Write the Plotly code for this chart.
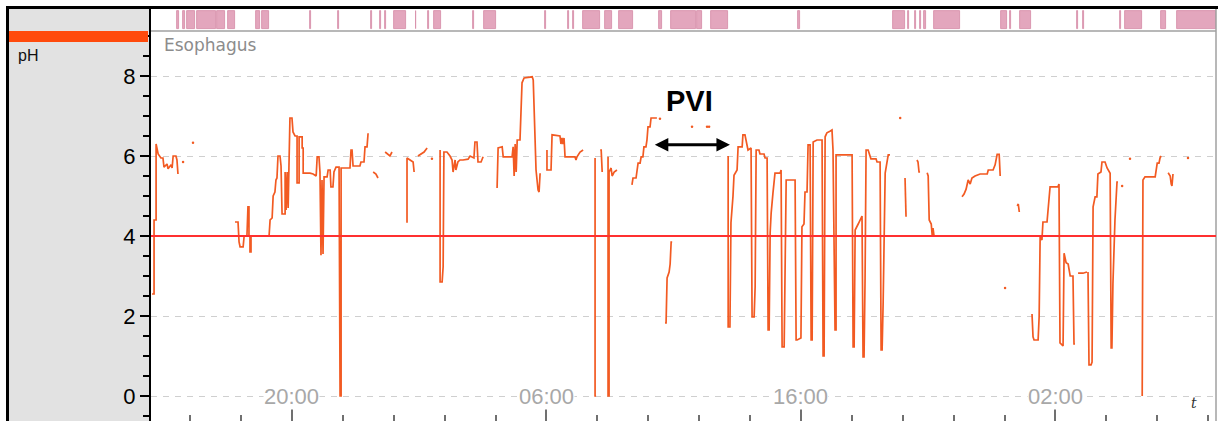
import plotly.graph_objects as go

# ---------------- data ----------------
# x values are clock hours counted continuously (20 = 20:00 day 1, 30 = 06:00 day 2, ...)
tick_hours = [20, 30, 40, 50]
tick_labels = ["20:00", "06:00", "16:00", "02:00"]
ph_threshold = 4.0
y_ticks = [0, 2, 4, 6, 8]

# pH trace (time in hours, pH); None = gap in recording
ph_points = [
    (14.50, 2.55), (14.58, 2.55), (14.58, 4.4), (14.66, 4.4), (14.66, 6.3), (14.74, 6.05), (14.85, 5.95),
    (14.93, 5.95), (14.97, 5.72), (15.09, 5.8), (15.13, 5.68), (15.25, 5.78), (15.29, 5.7), (15.33, 6.0),
    (15.44, 6.0), (15.48, 5.9), (15.52, 5.55), None,
    (17.76, 4.35), (17.88, 4.35), (17.92, 3.85), (17.96, 3.73), (18.08, 3.73), (18.12, 4.0), (18.23, 4.0),
    (18.27, 4.73), (18.31, 4.73), (18.31, 4.0), (18.35, 4.0), (18.35, 3.6), (18.39, 3.6), (18.39, 4.0),
    (19.10, 4.0), (19.14, 4.4), (19.22, 4.45), (19.26, 5.0), (19.33, 5.1), (19.37, 5.4), (19.41, 5.45),
    (19.45, 6.0), (19.53, 6.0), (19.57, 5.75), (19.61, 4.55), (19.73, 4.55), (19.73, 5.6), (19.77, 4.65),
    (19.81, 5.6), (19.85, 4.7), (19.88, 5.7), (19.92, 6.95), (20.00, 6.95), (20.04, 6.6), (20.12, 6.5),
    (20.20, 6.5), (20.20, 5.33), (20.28, 5.33), (20.28, 6.48), (20.40, 6.48), (20.40, 6.2), (20.44, 6.2),
    (20.44, 5.57), (20.71, 5.57), (20.83, 5.55), (20.95, 5.5), (20.99, 5.98), (21.06, 5.98), (21.10, 5.6),
    (21.14, 3.52), (21.18, 5.4), (21.22, 3.55), (21.26, 5.48), (21.38, 5.48), (21.42, 5.65), (21.50, 5.65),
    (21.53, 5.23), (21.61, 5.23), (21.65, 5.6), (21.73, 5.72), (21.85, 5.72), (21.89, 0.0), (21.93, 0.0),
    (21.93, 5.7), (22.28, 5.7), (22.32, 6.15), (22.36, 6.15), (22.40, 5.75), (22.67, 5.75), (22.71, 5.85),
    (22.83, 5.85), (22.87, 6.23), (22.95, 6.23), (22.99, 6.57), None,
    (23.19, 5.6), (23.30, 5.55), (23.38, 5.45), None,
    (23.66, 6.1), (23.77, 6.05), (23.85, 6.0), (23.93, 6.1), None,
    (24.52, 4.33), (24.52, 5.95), (24.64, 5.9), (24.76, 5.85), (24.80, 5.6), None,
    (24.95, 6.0), (25.07, 6.05), (25.19, 6.1), (25.31, 6.2), None,
    (25.82, 6.15), (25.82, 2.85), (25.90, 2.85), (25.94, 3.23), (25.97, 6.1), (26.09, 6.1), (26.21, 6.0),
    (26.29, 5.9), (26.33, 5.6), (26.41, 5.9), (26.44, 5.65), (26.52, 5.85), (26.60, 5.9), (26.72, 5.9),
    (26.92, 5.92), (27.00, 6.0), (27.15, 5.95), (27.19, 6.35), (27.27, 6.35), (27.31, 5.85), (27.43, 5.85),
    (27.51, 5.98), None,
    (28.06, 5.2), (28.10, 6.2), (28.26, 6.23), (28.30, 5.98), (28.65, 5.98), (28.69, 6.23), (28.73, 5.5),
    (28.77, 6.3), (28.81, 5.6), (28.85, 6.4), (28.96, 6.4), (29.00, 7.4), (29.04, 7.83), (29.12, 7.95),
    (29.44, 7.98), (29.48, 7.9), (29.55, 6.65), (29.59, 5.65), (29.67, 5.15), (29.71, 5.1), (29.75, 5.57), None,
    (30.02, 6.15), (30.02, 5.65), (30.18, 5.65), (30.22, 6.53), (30.53, 6.5), (30.57, 6.3), (30.61, 6.45),
    (30.65, 6.3), (30.69, 6.45), (30.73, 5.98), (31.12, 5.98), (31.16, 5.9), (31.20, 5.98), (31.32, 6.1),
    (31.44, 6.15), None,
    (31.91, 5.95), (31.91, 0.0), (31.95, 0.0), None,
    (32.11, 6.15), (32.15, 6.15), (32.19, 5.6), None,
    (32.42, 5.98), (32.42, 0.0), (32.46, 0.0), (32.46, 5.6), (32.54, 5.7), (32.58, 5.5), (32.66, 5.6),
    (32.77, 5.65), None,
    (33.36, 5.28), (33.40, 5.45), (33.52, 5.45), (33.56, 5.6), (33.60, 5.82), (33.68, 5.82), (33.72, 5.98),
    (33.79, 5.98), (33.83, 6.23), (33.91, 6.23), (33.95, 6.4), (33.99, 6.73), (34.07, 6.73), (34.11, 6.95),
    (34.34, 6.95), None,
    (34.66, 1.83), (34.70, 1.83), (34.74, 2.95), (34.82, 3.1), (34.86, 3.3), (34.90, 3.85), (34.94, 3.85), None,
    (37.14, 6.0), (37.14, 1.73), (37.21, 1.73), (37.25, 4.33), (37.33, 5.0), (37.37, 5.52), (37.49, 5.65),
    (37.53, 6.23), (37.69, 6.23), (37.72, 6.53), (37.80, 6.53), (37.84, 6.4), (37.92, 6.15), (38.04, 6.2),
    (38.08, 1.98), (38.16, 1.98), (38.20, 2.73), (38.24, 6.15), (38.35, 6.15), (38.39, 6.05), (38.55, 6.05),
    (38.59, 5.95), (38.67, 5.95), (38.71, 1.65), (38.75, 1.65), (38.79, 4.08), (38.83, 4.58), (38.90, 5.07),
    (38.98, 5.57), (39.18, 5.57), (39.22, 5.65), (39.26, 1.23), (39.34, 1.23), (39.42, 5.4), (39.77, 5.4),
    (39.81, 1.4), (39.85, 1.4), (40.00, 1.45), (40.04, 4.23), (40.12, 4.3), (40.16, 5.1), (40.24, 5.1),
    (40.28, 6.28), (40.36, 6.28), (40.40, 1.4), (40.44, 1.4), (40.48, 6.35), (40.63, 6.4), (40.83, 6.4),
    (40.87, 1.0), (40.91, 1.0), (40.95, 6.48), (41.02, 6.58), (41.14, 6.62), (41.22, 6.65), (41.26, 6.15),
    (41.34, 1.65), (41.38, 1.65), (41.38, 6.03), (42.01, 6.03), (42.05, 1.23), (42.09, 1.23), (42.13, 4.15),
    (42.25, 4.3), (42.36, 4.45), (42.40, 4.5), (42.44, 0.98), (42.48, 0.98), (42.52, 2.95), (42.56, 6.15),
    (42.64, 6.15), (42.68, 6.05), (42.75, 5.93), (42.95, 5.93), (42.99, 5.85), (43.11, 5.85), (43.15, 1.15),
    (43.19, 1.15), (43.23, 2.33), (43.31, 5.57), (43.39, 5.9), (43.43, 6.03), (43.50, 6.03), None,
    (44.09, 5.45), (44.13, 4.48), None,
    (44.56, 5.9), (44.60, 5.85), (44.64, 5.6), (44.68, 5.6), None,
    (44.96, 5.58), (45.00, 5.5), (45.04, 4.4), (45.12, 4.3), (45.16, 4.0), (45.19, 4.2), (45.23, 4.0), None,
    (46.33, 4.98), (46.41, 5.05), (46.49, 5.17), (46.57, 5.4), (46.65, 5.3), (46.72, 5.45), (46.84, 5.5),
    (47.04, 5.55), (47.32, 5.55), (47.36, 5.65), (47.55, 5.65), (47.63, 5.78), (47.71, 6.04), (47.79, 6.04),
    (47.83, 5.5), None,
    (48.50, 4.75), (48.54, 4.8), (48.58, 4.6), None,
    (49.08, 2.05), (49.12, 1.48), (49.16, 1.4), (49.32, 1.4), (49.36, 1.98), (49.40, 3.98), (49.47, 3.9),
    (49.51, 4.35), (49.67, 4.35), (49.71, 4.7), (49.79, 5.23), (50.10, 5.23), (50.14, 5.3), (50.18, 1.33),
    (50.30, 1.25), (50.34, 3.57), (50.42, 3.33), (50.50, 3.3), (50.58, 3.0), (50.69, 3.0), (50.73, 1.3),
    (50.77, 1.3), None,
    (50.89, 3.07), (51.08, 3.07), (51.24, 3.1), None,
    (51.28, 3.1), (51.32, 0.78), (51.40, 0.78), (51.44, 0.85), (51.48, 4.73), (51.56, 4.98), (51.63, 4.98),
    (51.67, 5.55), (51.79, 5.6), (51.83, 5.85), (51.95, 5.85), (52.03, 5.7), (52.15, 5.57), (52.19, 1.2),
    (52.22, 1.2), (52.26, 2.82), (52.34, 4.4), (52.42, 5.35), (52.46, 5.35), None,
    (53.41, 0.0), (53.44, 5.4), (53.52, 5.48), (53.92, 5.48), (54.00, 5.82), (54.07, 5.82), (54.11, 5.95),
    (54.15, 6.0), None,
    (54.43, 5.58), (54.51, 5.5), (54.55, 5.3), (54.58, 5.25), (54.62, 5.55),
]

# isolated single readings
dot_time = [15.72, 16.11, 25.50, 34.46, 35.72, 36.31, 36.39, 43.90, 48.02, 52.62, 52.93, 55.21]
dot_value = [5.85, 6.33, 5.93, 6.93, 6.73, 6.73, 6.73, 6.95, 2.70, 5.25, 5.93, 5.95]

# event marks in the top strip (start / end hour)
event_start = [15.48, 15.72, 15.88, 16.26, 17.07, 17.48, 18.57, 18.84, 20.69, 21.81, 23.11, 23.44, 23.64,
               24.01, 24.86, 25.35, 25.57, 27.12, 27.55, 29.96, 30.85, 31.06, 31.42, 32.30, 32.84, 34.41,
               34.89, 35.92, 36.47, 39.89, 43.62, 44.21, 44.49, 44.68, 44.84, 45.23, 47.87, 48.20, 48.61,
               50.83, 51.07, 52.52, 52.74, 54.16, 54.76]
event_end = [15.56, 15.78, 16.19, 17.00, 17.35, 17.75, 18.74, 19.11, 20.73, 21.85, 23.15, 23.48, 23.68,
             24.48, 24.89, 25.39, 25.85, 27.15, 28.02, 30.00, 30.89, 31.10, 32.10, 32.58, 33.39, 34.54,
             35.86, 36.12, 37.14, 39.95, 44.09, 44.25, 44.53, 44.72, 44.90, 46.25, 48.08, 48.24, 49.03,
             50.87, 51.11, 52.56, 53.41, 54.36, 56.31]

# ---------------- layout geometry (pixels) ----------------
FIG_W, FIG_H = 1218, 421
PL, PR, PT, PB = 151, 1216, 9, 421          # plot area
STRIP_BOTTOM = 31


def fx(p):
    return (p - PL) / (PR - PL)


def fy(p):
    return (PB - p) / (PB - PT)


ph_time = [p[0] if p is not None else None for p in ph_points]
ph_value = [p[1] if p is not None else None for p in ph_points]

fig = go.Figure()

# event strip
fig.add_trace(go.Bar(
    x=[(s + e) / 2 for s, e in zip(event_start, event_end)],
    width=[e - s for s, e in zip(event_start, event_end)],
    y=[0.82] * len(event_start), base=[0.09] * len(event_start),
    marker=dict(color="#e3a6bd", line=dict(color="#d48aa6", width=0.8)),
    xaxis="x", yaxis="y2", hoverinfo="skip", showlegend=False,
))

# pH trace
fig.add_trace(go.Scatter(
    x=ph_time, y=ph_value, mode="lines", connectgaps=False,
    line=dict(color="#f25a22", width=1.7), showlegend=False, hoverinfo="skip",
))
fig.add_trace(go.Scatter(
    x=dot_time, y=dot_value, mode="markers",
    marker=dict(color="#f25a22", size=2.5), showlegend=False, hoverinfo="skip",
))

main_top = fy(STRIP_BOTTOM)

shapes = [
    # grey side panel
    dict(type="rect", xref="paper", yref="paper", x0=fx(8), x1=fx(150), y0=fy(FIG_H), y1=fy(9),
         fillcolor="#e2e2e2", line=dict(width=0), layer="below"),
    # orange channel bar
    dict(type="rect", xref="paper", yref="paper", x0=fx(8), x1=fx(148), y0=fy(42), y1=fy(31),
         fillcolor="#ff4a0c", line=dict(width=0), layer="above"),
    # top black border
    dict(type="rect", xref="paper", yref="paper", x0=fx(6), x1=fx(FIG_W), y0=fy(9), y1=fy(6),
         fillcolor="#000000", line=dict(width=0), layer="above"),
    # left black border
    dict(type="rect", xref="paper", yref="paper", x0=fx(6), x1=fx(9), y0=fy(FIG_H), y1=fy(6),
         fillcolor="#000000", line=dict(width=0), layer="above"),
    # strip separator
    dict(type="line", xref="paper", yref="paper", x0=0, x1=1, y0=main_top, y1=main_top,
         line=dict(color="#a0a0a0", width=1.5), layer="above"),
    # right border
    dict(type="line", xref="paper", yref="paper", x0=1, x1=1, y0=0, y1=1,
         line=dict(color="#a0a0a0", width=1.5), layer="above"),
    # pH 4 threshold
    dict(type="line", xref="paper", yref="y", x0=0, x1=1, y0=ph_threshold, y1=ph_threshold,
         line=dict(color="#ff3030", width=2), layer="above"),
]

annotations = [
    dict(text="Esophagus", xref="paper", yref="paper", x=fx(162), y=fy(45), xanchor="left",
         yanchor="middle", showarrow=False, font=dict(family="DejaVu Sans", size=17, color="#8c8c8c")),
    dict(text="pH", xref="paper", yref="paper", x=fx(16), y=fy(56), xanchor="left", yanchor="middle",
         showarrow=False, font=dict(family="Liberation Sans", size=16, color="#111111")),
    dict(text="<i>t</i>", xref="paper", yref="paper", x=fx(1194), y=fy(403), xanchor="center",
         yanchor="middle", showarrow=False, font=dict(family="DejaVu Serif", size=14, color="#333333")),
    dict(text="<b>PVI</b>", xref="x", yref="y", x=35.64, y=7.38, showarrow=False,
         font=dict(family="Liberation Sans", size=29, color="#000000")),
    dict(text="", xref="x", yref="y", x=37.21, y=6.28, ax=34.20, ay=6.28, axref="x", ayref="y",
         showarrow=True, arrowhead=2, startarrowhead=2, arrowside="end+start", arrowwidth=3,
         arrowsize=0.9, startarrowsize=0.9, arrowcolor="#000000", standoff=0, startstandoff=0),
]
for t, lab in zip(tick_hours, tick_labels):
    annotations.append(dict(text=lab, xref="x", yref="y", x=t, y=0, showarrow=False,
                            xanchor="center", yanchor="middle", bgcolor="#ffffff", borderpad=0,
                            font=dict(family="Liberation Sans", size=22, color="#a8a8a8")))

fig.update_layout(
    width=FIG_W, height=FIG_H,
    margin=dict(l=PL, r=FIG_W - PR, t=PT, b=FIG_H - PB, pad=0),
    paper_bgcolor="#ffffff", plot_bgcolor="#ffffff",
    bargap=0, barmode="overlay",
    xaxis=dict(range=[14.46, 56.31], showgrid=False, zeroline=False, showline=False,
               tickvals=tick_hours, ticks="inside", ticklen=13, tickwidth=1.5, tickcolor="#707070",
               showticklabels=False,
               minor=dict(tick0=0, dtick=2, ticks="inside", ticklen=6, tickwidth=1.5,
                          tickcolor="#707070", showgrid=False),
               anchor="y"),
    yaxis=dict(domain=[0, main_top], range=[-0.625, 9.125], tickvals=y_ticks,
               ticks="outside", ticklen=9, tickwidth=2, tickcolor="#000000",
               showline=True, linecolor="#000000", linewidth=2,
               showgrid=True, gridcolor="#cfcfcf", griddash="6px,6px", gridwidth=1,
               zeroline=False,
               tickfont=dict(family="Liberation Sans", size=22, color="#000000"),
               minor=dict(dtick=0.5, tick0=0, ticks="outside", ticklen=6, tickwidth=2,
                          tickcolor="#000000", showgrid=False),
               anchor="x"),
    yaxis2=dict(domain=[main_top, 1], range=[0, 1], showgrid=False, zeroline=False,
                showticklabels=False, ticks="", showline=True, linecolor="#000000", linewidth=2,
                anchor="x"),
    shapes=shapes,
    annotations=annotations,
)

fig.write_html("out.html")
